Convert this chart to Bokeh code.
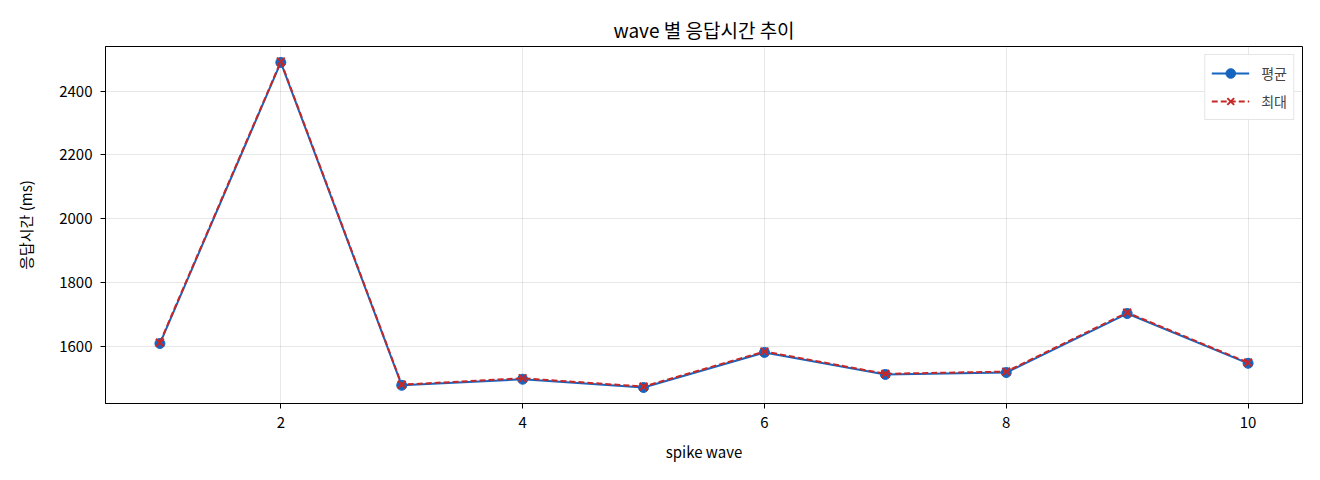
from bokeh.embed import file_html
from bokeh.models import Range1d, FixedTicker
from bokeh.plotting import figure
from bokeh.resources import INLINE

waves = [1, 2, 3, 4, 5, 6, 7, 8, 9, 10]
avg_ms = [1609, 2490, 1478, 1497, 1471, 1581, 1512, 1518, 1703, 1547]
max_ms = [1612, 2493, 1480, 1500, 1474, 1584, 1514, 1521, 1706, 1549]
x_ticks = [2, 4, 6, 8, 10]
y_ticks = [1600, 1800, 2000, 2200, 2400]

FONT = "Noto Sans CJK KR"
BLUE = "#1565C0"
RED = "#C62828"

p = figure(
    width=1304,
    height=464,
    title="wave 별 응답시간 추이",
    x_axis_label="spike wave",
    y_axis_label="응답시간 (ms)",
    x_range=Range1d(0.55, 10.45),
    y_range=Range1d(1421, 2540),
    output_backend="svg",
    toolbar_location=None,
    min_border_left=105,
    min_border_right=2,
    min_border_top=46,
    min_border_bottom=61,
)

p.line(waves, avg_ms, line_color=BLUE, line_width=2, legend_label="평균")
p.scatter(waves, avg_ms, marker="circle", size=10, fill_color=BLUE, line_color=BLUE, legend_label="평균")
p.line(waves, max_ms, line_color=RED, line_width=2, line_dash="6 3", legend_label="최대")
p.scatter(waves, max_ms, marker="x", size=11, line_color=RED, line_width=2, legend_label="최대")

p.title.text_font = FONT
p.title.text_font_size = "19px"
p.title.text_font_style = "normal"
p.title.align = "center"
p.title.text_color = "#000000"
p.title.standoff = 8

p.outline_line_color = "#000000"
p.outline_line_width = 1

for ax in (p.xaxis, p.yaxis):
    ax.axis_label_text_font = FONT
    ax.axis_label_text_font_size = "15px"
    ax.axis_label_text_font_style = "normal"
    ax.axis_label_text_color = "#000000"
    ax.major_label_text_font = FONT
    ax.major_label_text_font_size = "15px"
    ax.major_label_text_color = "#000000"
    ax.major_tick_out = 5
    ax.major_tick_in = 0
    ax.minor_tick_out = 0
    ax.minor_tick_in = 0
    ax.axis_line_color = "#000000"
    ax.major_tick_line_color = "#000000"
    ax.major_label_standoff = 8

p.xaxis.axis_label_standoff = 10
p.yaxis.axis_label_standoff = 20

p.xaxis.ticker = FixedTicker(ticks=x_ticks)
p.yaxis.ticker = FixedTicker(ticks=y_ticks)

p.xgrid.ticker = FixedTicker(ticks=x_ticks)
p.ygrid.ticker = FixedTicker(ticks=y_ticks)
p.grid.grid_line_color = "#b0b0b0"
p.grid.grid_line_alpha = 0.3

p.legend.location = "top_right"
p.legend.label_text_font = FONT
p.legend.label_text_font_size = "14px"
p.legend.border_line_color = "#cccccc"
p.legend.background_fill_alpha = 0.9
p.legend.margin = 8
p.legend.padding = 6
p.legend.spacing = 4
p.legend.glyph_width = 38
p.legend.glyph_height = 24
p.legend.label_height = 24
p.legend.label_standoff = 12

open("out.html", "w").write(file_html(p, INLINE))
